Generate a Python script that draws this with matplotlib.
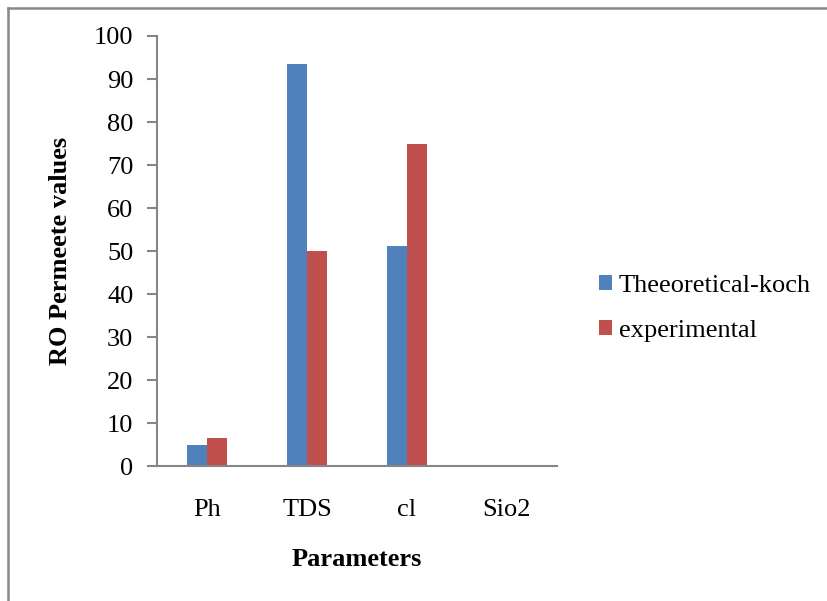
import matplotlib
matplotlib.use("Agg")
import matplotlib.pyplot as plt
from matplotlib.lines import Line2D
import numpy as np

# данные
categories = ["Ph", "TDS", "cl", "Sio2"]
theoretical = [4.8, 93.5, 51.2, 0.3]
experimental = [6.4, 50.0, 75.0, 0.2]
series_names = ["Theeoretical-koch", "experimental"]

plt.rcParams['font.family'] = ['Liberation Serif', 'DejaVu Serif']
fs = 19

fig = plt.figure(figsize=(8.28, 6.01), dpi=100)
ax = fig.add_axes([0.1896, 0.2246, 0.4831, 0.7155])

x = np.arange(len(categories))
w = 0.2
ax.bar(x - w / 2, theoretical, w, color="#4f81bd", label=series_names[0])
ax.bar(x + w / 2, experimental, w, color="#c0504d", label=series_names[1])

ax.set_xlim(-0.5, len(categories) - 0.5)
ax.set_ylim(0, 100)
ax.set_yticks(range(0, 101, 10))
ax.set_xticks(x)
ax.set_xticklabels(categories)

for s in ["top", "right"]:
    ax.spines[s].set_visible(False)
for s in ["left", "bottom"]:
    ax.spines[s].set_color("#868686")
    ax.spines[s].set_linewidth(1.5)

ax.tick_params(axis="y", direction="out", length=7, width=1.5, color="#868686",
               labelsize=fs, pad=10)
ax.tick_params(axis="x", length=0, labelsize=fs, pad=24)

ax.set_ylabel("RO Permeete values", fontsize=fs, fontweight="bold", labelpad=16)
ax.set_xlabel("Parameters", fontsize=fs, fontweight="bold", labelpad=19.5)

leg = ax.legend(loc="center left", bbox_to_anchor=(1.079, 0.367), frameon=False,
                fontsize=fs, handlelength=0.5, handleheight=0.5, borderaxespad=0,
                handletextpad=0.25, labelspacing=0.87)

# рамка вокруг графика
fig.add_artist(Line2D([8 / 828, 8 / 828], [0, 1 - 8 / 601], color="#888888", lw=1.8))
fig.add_artist(Line2D([8 / 828, 1], [1 - 8 / 601, 1 - 8 / 601], color="#888888", lw=1.8))

fig.savefig("out.png", dpi=100)
